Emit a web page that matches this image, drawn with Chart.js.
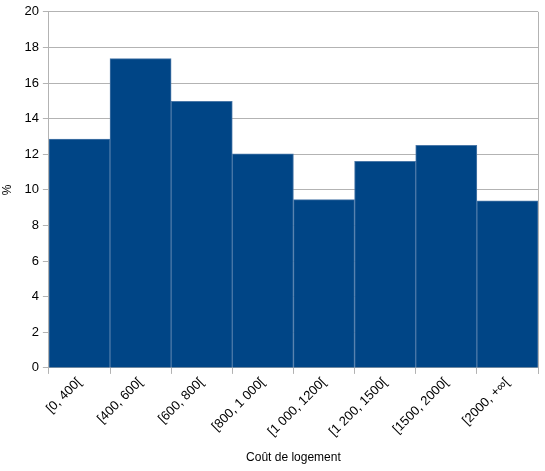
<!DOCTYPE html>
<html>
<head>
<meta charset="utf-8">
<script src="https://cdn.jsdelivr.net/npm/chart.js@4"></script>
<style>
html,body{margin:0;padding:0;background:#fff;}
#wrap{width:545px;height:471px;}
</style>
</head>
<body>
<div id="wrap"><canvas id="c" width="545" height="471"></canvas></div>
<script>
const categories = ["[0, 400[", "[400, 600[", "[600, 800[", "[800, 1 000[", "[1 000, 1200[", "[1 200, 1500[", "[1500, 2000[", "[2000, +∞["];
const values = [12.85, 17.37, 14.97, 12.03, 9.45, 11.6, 12.5, 9.38];
const yTicks = [0, 2, 4, 6, 8, 10, 12, 14, 16, 18, 20];

const rightBorder = {
  id: 'rightBorder',
  afterDraw(chart) {
    const a = chart.chartArea, ctx = chart.ctx;
    ctx.save();
    ctx.strokeStyle = '#b3b3b3';
    ctx.lineWidth = 1;
    ctx.beginPath();
    ctx.moveTo(Math.round(a.right) + 0.5, a.top);
    ctx.lineTo(Math.round(a.right) + 0.5, a.bottom + 6);
    ctx.stroke();
    ctx.restore();
  }
};

new Chart(document.getElementById('c'), {
  type: 'bar',
  data: {
    labels: categories,
    datasets: [{
      data: values,
      backgroundColor: '#004586',
      borderColor: '#4a78a8',
      borderWidth: 1,
      barPercentage: 1,
      categoryPercentage: 1
    }]
  },
  options: {
    responsive: false,
    animation: false,
    devicePixelRatio: 1,
    layout: { padding: { top: 10, right: 7, left: 0, bottom: 6 } },
    plugins: { legend: { display: false }, tooltip: { enabled: false } },
    scales: {
      x: {
        grid: { offset: true, drawOnChartArea: false, color: '#b3b3b3', tickLength: 6 },
        border: { color: '#b3b3b3' },
        ticks: { color: '#000', font: { family: 'Liberation Sans', size: 13 }, maxRotation: 45, minRotation: 45, padding: 1 },
        title: { display: true, text: 'Coût de logement', color: '#000', font: { family: 'Liberation Sans', size: 12 }, padding: { top: 10, bottom: 0 } }
      },
      y: {
        min: 0, max: 20,
        afterBuildTicks(axis) { axis.ticks = yTicks.map(v => ({ value: v })); },
        grid: { color: '#b3b3b3', tickLength: 6 },
        border: { color: '#b3b3b3' },
        ticks: { color: '#000', font: { family: 'Liberation Sans', size: 13 }, padding: 4 },
        title: { display: true, text: '%', color: '#000', font: { family: 'Liberation Sans', size: 12 }, padding: { top: 0, bottom: 6 } }
      }
    }
  },
  plugins: [rightBorder]
});
</script>
</body>
</html>
